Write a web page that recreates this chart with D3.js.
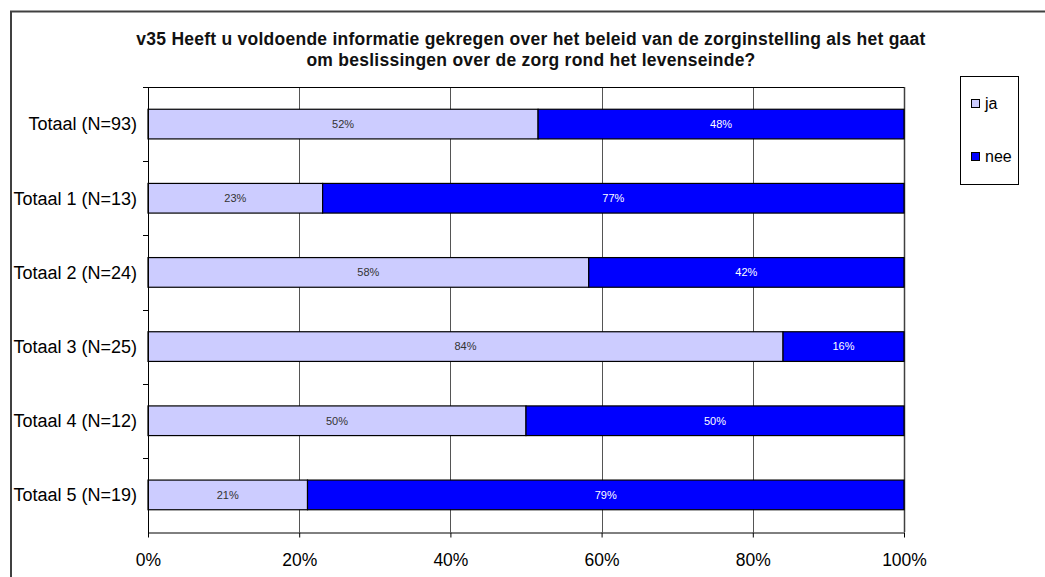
<!DOCTYPE html>
<html lang="nl">
<head>
<meta charset="utf-8" />
<style>
  body { margin: 0; background: #fff; }
  svg { display: block; font-family: "Liberation Sans", Arial, sans-serif; }
</style>
</head>
<body>
<div id="chart"></div>
<script src="https://cdnjs.cloudflare.com/ajax/libs/d3/7.8.5/d3.min.js"></script>
<script>
  // data
  const categories = ["Totaal (N=93)", "Totaal 1 (N=13)", "Totaal 2 (N=24)", "Totaal 3 (N=25)", "Totaal 4 (N=12)", "Totaal 5 (N=19)"];
  const ja = [51.6, 23.1, 58.3, 84.0, 50.0, 21.1];
  const nee = [48.4, 76.9, 41.7, 16.0, 50.0, 78.9];
  const seriesNames = ["ja", "nee"];
  const seriesColors = ["#ccccff", "#0000ff"];
  const labelColors = ["#333333", "#ffffff"];
  const xTicks = [0, 20, 40, 60, 80, 100];
  const titleLines = [
    "v35 Heeft u voldoende informatie gekregen over het beleid van de zorginstelling als het gaat",
    "om beslissingen over de zorg rond het levenseinde?"
  ];

  const width = 1045, height = 577;
  const margin = { left: 148, right: 1045 - 904, top: 87, bottom: 577 - 532 };

  const svg = d3.select("#chart").append("svg")
    .attr("width", width)
    .attr("height", height);

  // outer chart border
  svg.append("rect")
    .attr("x", 11).attr("y", 11.5)
    .attr("width", width).attr("height", height)
    .attr("fill", "none").attr("stroke", "#404040").attr("stroke-width", 2);

  const x = d3.scaleLinear().domain([0, 100]).range([margin.left, width - margin.right]);
  const y = d3.scaleBand().domain(categories).range([margin.top, height - margin.bottom]).paddingInner(0.6).paddingOuter(0.3);
  const yOuter = d3.scaleBand().domain(categories).range([margin.top, height - margin.bottom]);

  // title
  svg.append("g").selectAll("text")
    .data(titleLines)
    .join("text")
    .attr("x", 531)
    .attr("y", (d, i) => 45 + i * 21)
    .attr("text-anchor", "middle")
    .attr("font-size", 17.5)
    .attr("letter-spacing", 0.25)
    .attr("font-weight", "bold")
    .attr("fill", "#111")
    .text(d => d);

  // gridlines
  svg.append("g").selectAll("line")
    .data(xTicks.slice(1))
    .join("line")
    .attr("x1", d => Math.round(x(d)) + 0.5).attr("x2", d => Math.round(x(d)) + 0.5)
    .attr("y1", margin.top).attr("y2", height - margin.bottom)
    .attr("stroke", d => d === 100 ? "#404040" : "#555")
    .attr("stroke-width", d => d === 100 ? 1.5 : 1);

  // top border of plot area
  svg.append("line")
    .attr("x1", x(0)).attr("x2", x(100))
    .attr("y1", margin.top + 0.5).attr("y2", margin.top + 0.5)
    .attr("stroke", "#000");

  // stacked bars
  const rows = categories.map((c, i) => ({ cat: c, vals: [ja[i], nee[i]] }));
  const segs = [];
  rows.forEach(r => {
    let acc = 0;
    r.vals.forEach((v, k) => {
      segs.push({ cat: r.cat, k, x0: acc, x1: acc + v, v });
      acc += v;
    });
  });

  svg.append("g").selectAll("rect")
    .data(segs)
    .join("rect")
    .attr("x", d => x(d.x0))
    .attr("y", d => y(d.cat))
    .attr("width", d => x(d.x1) - x(d.x0))
    .attr("height", y.bandwidth())
    .attr("fill", d => seriesColors[d.k])
    .attr("stroke", "#000")
    .attr("stroke-width", 1.2);

  svg.append("g").selectAll("text")
    .data(segs)
    .join("text")
    .attr("x", d => (x(d.x0) + x(d.x1)) / 2)
    .attr("y", d => y(d.cat) + y.bandwidth() / 2)
    .attr("dy", "0.35em")
    .attr("text-anchor", "middle")
    .attr("font-size", 11)
    .attr("fill", d => labelColors[d.k])
    .text(d => Math.round(d.v) + "%");

  // y axis
  const yAxisG = svg.append("g");
  yAxisG.append("line")
    .attr("x1", margin.left + 0.5).attr("x2", margin.left + 0.5)
    .attr("y1", margin.top).attr("y2", height - margin.bottom + 5)
    .attr("stroke", "#000");
  yAxisG.selectAll("line.tick")
    .data(categories.slice(1))
    .join("line")
    .attr("class", "tick")
    .attr("x1", margin.left - 5).attr("x2", margin.left)
    .attr("y1", d => Math.round(yOuter(d)) + 0.5)
    .attr("y2", d => Math.round(yOuter(d)) + 0.5)
    .attr("stroke", "#000");
  yAxisG.append("line")
    .attr("x1", margin.left - 5).attr("x2", margin.left)
    .attr("y1", margin.top + 0.5).attr("y2", margin.top + 0.5)
    .attr("stroke", "#000");
  yAxisG.selectAll("text")
    .data(categories)
    .join("text")
    .attr("x", 137)
    .attr("y", d => yOuter(d) + yOuter.bandwidth() / 2)
    .attr("dy", "0.35em")
    .attr("text-anchor", "end")
    .attr("font-size", 18)
    .text(d => d);

  // x axis
  const xAxis = d3.axisBottom(x)
    .tickValues(xTicks)
    .tickFormat(d => d + "%")
    .tickSizeInner(5)
    .tickSizeOuter(0)
    .tickPadding(16);
  const xAxisG = svg.append("g")
    .attr("transform", `translate(0,${height - margin.bottom + 0.5})`)
    .call(xAxis);
  xAxisG.select(".domain").attr("stroke", "#000");
  xAxisG.selectAll(".tick line").attr("stroke", "#000");
  xAxisG.selectAll(".tick text")
    .attr("font-size", 17.5)
    .attr("font-family", "Liberation Sans, Arial, sans-serif")
    .attr("fill", "#000");

  // legend
  const legend = svg.append("g");
  legend.append("rect")
    .attr("x", 960.5).attr("y", 76.5)
    .attr("width", 58).attr("height", 108)
    .attr("fill", "#fff").attr("stroke", "#000");
  const li = legend.selectAll("g.item")
    .data(seriesNames)
    .join("g")
    .attr("class", "item")
    .attr("transform", (d, i) => `translate(971,${103 + i * 53})`);
  li.append("rect")
    .attr("x", 0.5).attr("y", -3.5)
    .attr("width", 8).attr("height", 8)
    .attr("fill", (d, i) => seriesColors[i])
    .attr("stroke", "#000");
  li.append("text")
    .attr("x", 14).attr("dy", "0.38em")
    .attr("font-size", 16)
    .text(d => d);
</script>
</body>
</html>
